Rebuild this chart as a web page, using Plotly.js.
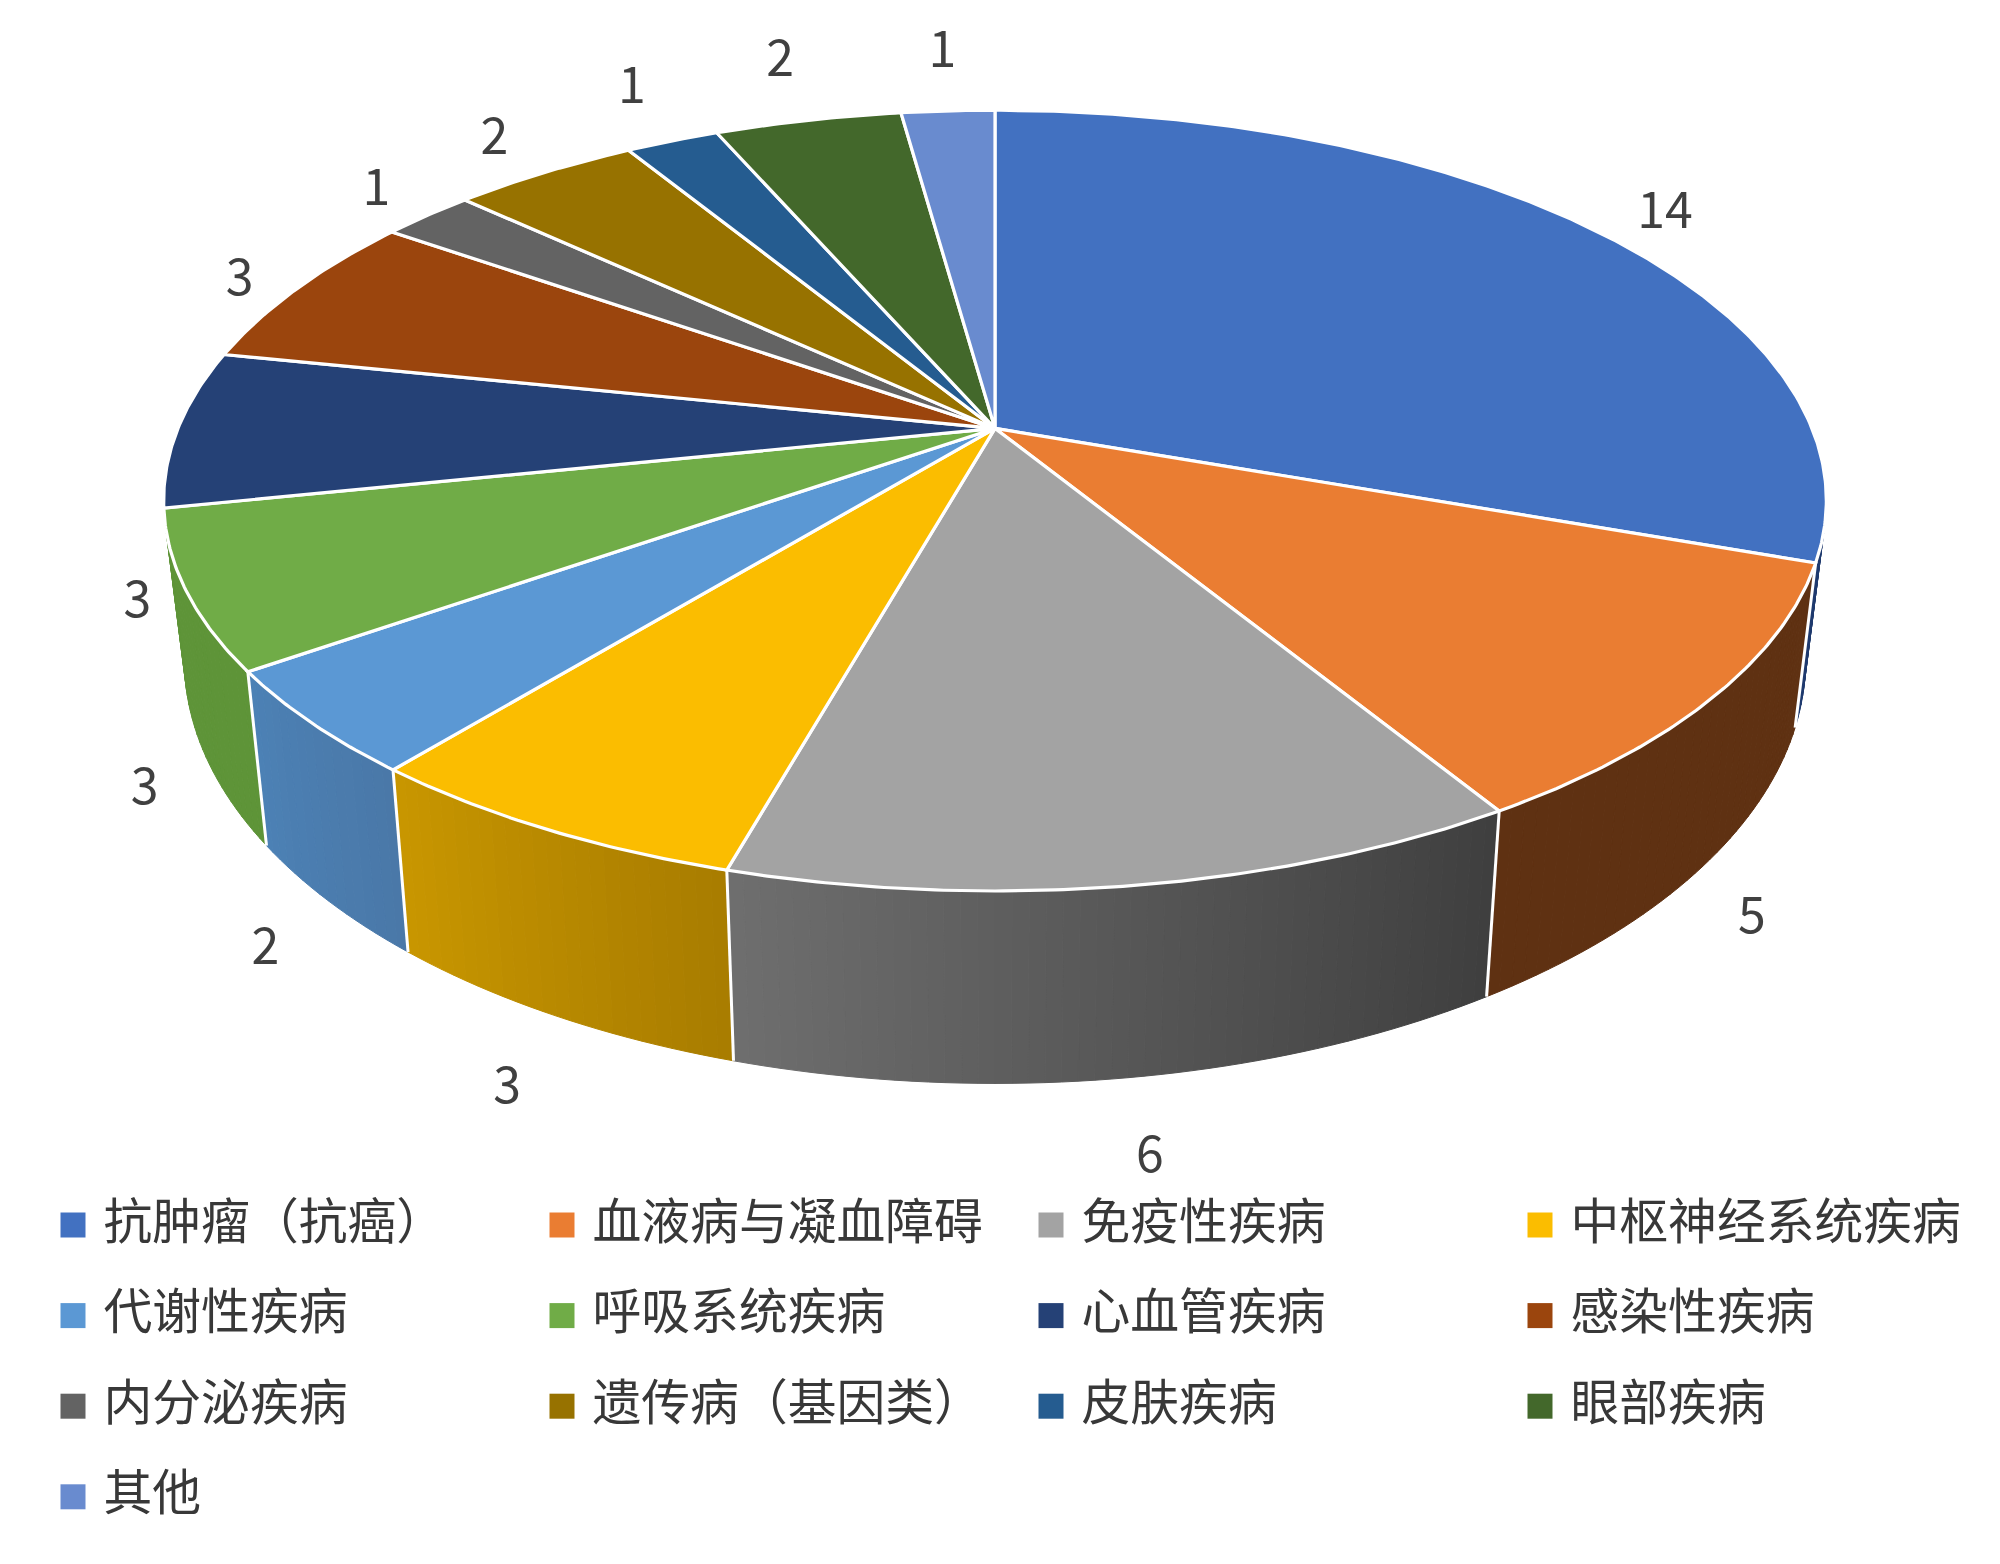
<!DOCTYPE html>
<html><head><meta charset="utf-8">
<script src="https://cdn.plot.ly/plotly-3.0.1.min.js"></script>
<style>html,body{margin:0;padding:0;background:#fff}</style></head>
<body><div id="chart" style="width:2000px;height:1564px"></div>
<script>
const categories = ['抗肿瘤（抗癌）','血液病与凝血障碍','免疫性疾病','中枢神经系统疾病','代谢性疾病','呼吸系统疾病','心血管疾病','感染性疾病','内分泌疾病','遗传病（基因类）','皮肤疾病','眼部疾病','其他'];
const values = [14,5,6,3,2,3,3,3,1,2,1,2,1];
const topColors = ['#4271C1','#EA7D32','#A3A3A3','#FBBD00','#5B98D4','#70AC47','#254176','#9B450D','#636363','#977200','#255C90','#43682B','#698BCF'];
const sideStart = ['#1f3a6e','#5f3112','#6e6e6e','#c99700','#4c81b5','#5e9438'];
const sideEnd   = ['#1f3a6e','#5f3112','#3f3f3f','#a87c00','#4a78a8','#5e9438'];
const labelNudgeX = [13,6,13,-19,-15,-1,5,3,0,-8,-10,-10,-1];
const labelNudgeY = [17,1,10,10,1,5,23,17,14,14,1,-1,1];

// projection of the disc
const cx=995, cy=428.4, a=817, b=377, k=0.185;
const cyB=581.6, bB=409, sB=0.975;
const W=2000, H=1564;
const total = values.reduce((p,c)=>p+c,0);
const cum=[0]; values.forEach(v=>cum.push(cum[cum.length-1]+v));
const ang = c => c/total*2*Math.PI;
const topPt = t => { const X=Math.sin(t),Z=Math.cos(t),w=1+k*Z; return [cx+a*X/w, cy-b*Z/w]; };
const botPt = t => { const X=Math.sin(t),Z=Math.cos(t),w=1+k*Z; return [cx+a*sB*X/w, cyB-bB*Z/w]; };
const hex = c => [1,3,5].map(i=>parseInt(c.substr(i,2),16));
const mix = (p,q,f) => { const A=hex(p),B=hex(q); return 'rgb('+A.map((v,i)=>Math.round(v+(B[i]-v)*f)).join(',')+')'; };

const traces=[];
const poly=(pts,fill,lineColor,lw)=>({type:'scatter',mode:'lines',x:pts.map(p=>p[0]),y:pts.map(p=>p[1]),fill:'toself',fillcolor:fill,line:{color:lineColor,width:lw},hoverinfo:'skip',showlegend:false});

// side walls, far ones first
const sideIdx = sideStart.map((_,i)=>i).sort((p,q)=>Math.cos(ang((cum[q]+cum[q+1])/2))-Math.cos(ang((cum[p]+cum[p+1])/2)));
sideIdx.forEach(i=>{
  const t0=ang(cum[i]), t1=ang(cum[i+1]);
  const STRIPS=Math.max(16,values[i]*8);
  for(let s=0;s<STRIPS;s++){
    const ta=t0+(t1-t0)*s/STRIPS, tb=t0+(t1-t0)*(s+1)/STRIPS;
    const col=mix(sideEnd[i],sideStart[i],(s+0.5)/STRIPS);
    traces.push(poly([topPt(ta),topPt(tb),botPt(tb),botPt(ta),topPt(ta)],col,col,1));
  }
});
// white seams on the wall
const seamX=[],seamY=[];
for(let i=1;i<sideStart.length;i++){
  const t=ang(cum[i]),p=topPt(t),q=botPt(t);
  seamX.push(p[0],q[0],null); seamY.push(p[1],q[1],null);
}
traces.push({type:'scatter',mode:'lines',x:seamX,y:seamY,line:{color:'#fff',width:3},hoverinfo:'skip',showlegend:false});
// top face
values.forEach((v,i)=>{
  const t0=ang(cum[i]),t1=ang(cum[i+1]);
  const n=Math.max(8,Math.round(v*16));
  const pts=[[cx,cy]];
  for(let s=0;s<=n;s++) pts.push(topPt(t0+(t1-t0)*s/n));
  pts.push([cx,cy]);
  traces.push(poly(pts,topColors[i],'#fff',3.2));
});
// data labels
const lx=[],ly=[];
values.forEach((v,i)=>{
  const t=ang((cum[i]+cum[i+1])/2),X=Math.sin(t),Z=Math.cos(t);
  const p=Z>0?topPt(t):botPt(t);
  lx.push(p[0]+X*66+labelNudgeX[i]);
  ly.push(p[1]-Z*(Z>0?58:72)+labelNudgeY[i]);
});
traces.push({type:'scatter',mode:'text',x:lx,y:ly,text:values.map(String),textposition:'middle center',
  textfont:{family:'"Noto Sans CJK SC"',size:50,color:'#404040'},hoverinfo:'skip',showlegend:false});
// legend grid
const colX=489, rowY=90.6, swX=73, txtX=103.5, legY=1226.5;
const col=i=>i%4, row=i=>Math.floor(i/4);
traces.push({type:'scatter',mode:'markers',x:categories.map((_,i)=>swX+col(i)*colX),y:categories.map((_,i)=>1225+row(i)*rowY),
  marker:{symbol:'square',size:25,color:topColors,line:{width:0}},hoverinfo:'skip',showlegend:false});
traces.push({type:'scatter',mode:'text',x:categories.map((_,i)=>txtX+col(i)*colX),y:categories.map((_,i)=>legY+row(i)*rowY),text:categories,textposition:'middle right',
  textfont:{family:'"Noto Sans CJK SC"',size:48.8,color:'#383838'},hoverinfo:'skip',showlegend:false});

Plotly.newPlot('chart',traces,{
  width:W,height:H,margin:{l:0,r:0,t:0,b:0},paper_bgcolor:'#fff',plot_bgcolor:'#fff',showlegend:false,
  xaxis:{range:[0,W],visible:false,fixedrange:true},
  yaxis:{range:[H,0],visible:false,fixedrange:true}
},{staticPlot:true,displayModeBar:false});
</script></body></html>
